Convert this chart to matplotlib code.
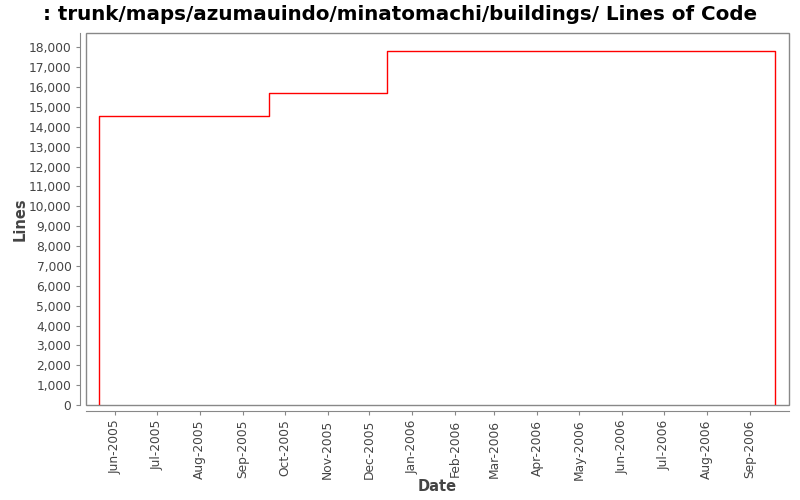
import matplotlib
matplotlib.use("Agg")
import matplotlib.pyplot as plt
import matplotlib.dates as mdates
from matplotlib.ticker import FuncFormatter, MultipleLocator
from matplotlib.patches import Rectangle
import datetime as dt

# step data: date of change and line count after it
dates = [dt.date(2005, 5, 20), dt.date(2005, 9, 20), dt.date(2005, 12, 14),
         dt.date(2006, 9, 19), dt.date(2006, 9, 19)]
lines = [14550, 15700, 17820, 17820, 0]

fig = plt.figure(figsize=(8, 5), dpi=100)
ax = fig.add_axes([0.1075, 0.19, 0.8785, 0.744])

x = [dates[0]] + dates
y = [0] + lines
ax.step(x, y, where="post", color="#ff0000", lw=1)

ax.set_xlim(dt.date(2005, 5, 11), dt.date(2006, 9, 29))
ax.set_ylim(0, 18720)

ax.yaxis.set_major_locator(MultipleLocator(1000))
ax.yaxis.set_major_formatter(FuncFormatter(lambda v, p: f"{int(v):,}"))
ax.xaxis.set_major_locator(mdates.MonthLocator())
ax.xaxis.set_major_formatter(mdates.DateFormatter("%b-%Y"))

for s in ["top", "right"]:
    ax.spines[s].set_visible(False)
for s in ["left", "bottom"]:
    ax.spines[s].set_position(("outward", 4))
    ax.spines[s].set_color("#888888")
ax.add_patch(Rectangle((0, 0), 1, 1, transform=ax.transAxes, fill=False,
                       edgecolor="#888888", lw=1, clip_on=False))

ax.tick_params(axis="both", colors="#888888", labelcolor="#444444",
               labelsize=8.8, length=3, direction="out")
ax.tick_params(axis="x", labelrotation=90)

ax.set_xlabel("Date", fontsize=10.5, fontweight="bold", color="#444444", labelpad=-1)
ax.set_ylabel("Lines", fontsize=10.5, fontweight="bold", color="#444444", labelpad=1)
fig.suptitle(": trunk/maps/azumauindo/minatomachi/buildings/ Lines of Code",
             fontsize=14.3, fontweight="bold", y=0.99)

fig.savefig("out.png", dpi=100)
